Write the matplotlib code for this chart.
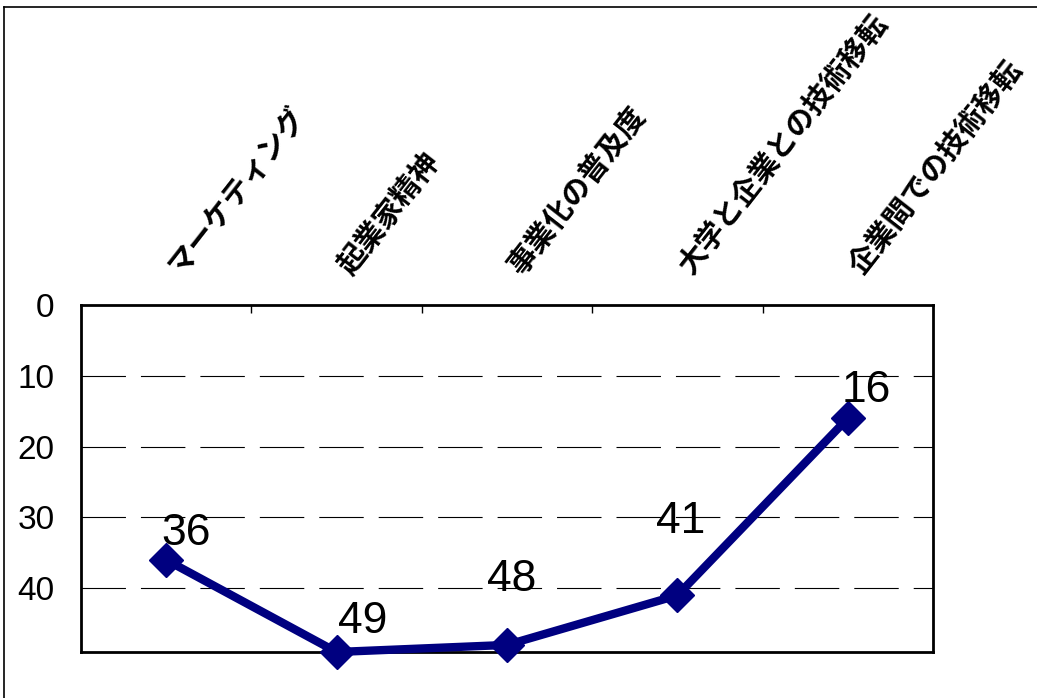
import numpy as np
import matplotlib.pyplot as plt
from matplotlib.lines import Line2D

# data
categories = ['マーケティング', '起業家精神', '事業化の普及度', '大学と企業との技術移転', '企業間での技術移転']
values = [36, 49, 48, 41, 16]
yticks = [0, 10, 20, 30, 40]

# label offsets (points) - labels were moved by hand in the original
label_offsets = [(14, 19), (19, 22), (3, 47), (2, 53), (13, 20)]

num_font = ['Liberation Sans Narrow', 'DejaVu Sans Condensed', 'Liberation Sans', 'DejaVu Sans']
jp_font = ['Noto Sans CJK JP', 'DejaVu Sans']

fig = plt.figure(figsize=(10.37, 6.98), dpi=100)
ax = fig.add_axes([81/1037, 1-652/698, (933-81)/1037, (652-305)/698])

x = np.arange(len(categories))
ax.plot(x, values, color='#000080', lw=6, marker='D', markersize=17,
        markeredgecolor='#000080', zorder=3, clip_on=False)

ax.set_xlim(-0.5, len(categories)-0.5)
ax.set_ylim(49, 0)

# gridlines
for v in yticks[1:]:
    ax.axhline(v, color='black', lw=0.8, linestyle=(0, (40, 13.5)), zorder=1)

ax.set_yticks(yticks)
ax.set_yticklabels([str(v) for v in yticks], fontsize=24, family=num_font)
ax.tick_params(axis='y', length=0, pad=19)

# ticks on the top spine between categories
ax.set_xticks([])
ax.xaxis.set_ticks_position('top')
ax.set_xticks(np.arange(len(categories)-1) + 0.5, minor=True)
ax.tick_params(axis='x', which='minor', direction='in', length=6, width=1, top=True, bottom=False)
ax.tick_params(axis='x', which='major', length=0)

for s in ax.spines.values():
    s.set_linewidth(2)

# value labels
for i, v in enumerate(values):
    ax.annotate(str(v), (i, v), xytext=label_offsets[i], textcoords='offset points',
                ha='center', va='center', fontsize=32, family=num_font)

# category labels above the plot
for i, c in enumerate(categories):
    ax.annotate(c, (i, 0), xytext=(14, 18), textcoords='offset points',
                ha='left', va='bottom', rotation=52, rotation_mode='anchor',
                fontsize=21, fontweight='bold', family=jp_font)

# outer frame (only top and left visible)
fig.add_artist(Line2D([4/1037, 1], [1-7/698, 1-7/698], color='black', lw=1.2))
fig.add_artist(Line2D([4/1037, 4/1037], [0, 1-7/698], color='black', lw=1.2))

fig.savefig('out.png', dpi=100)
